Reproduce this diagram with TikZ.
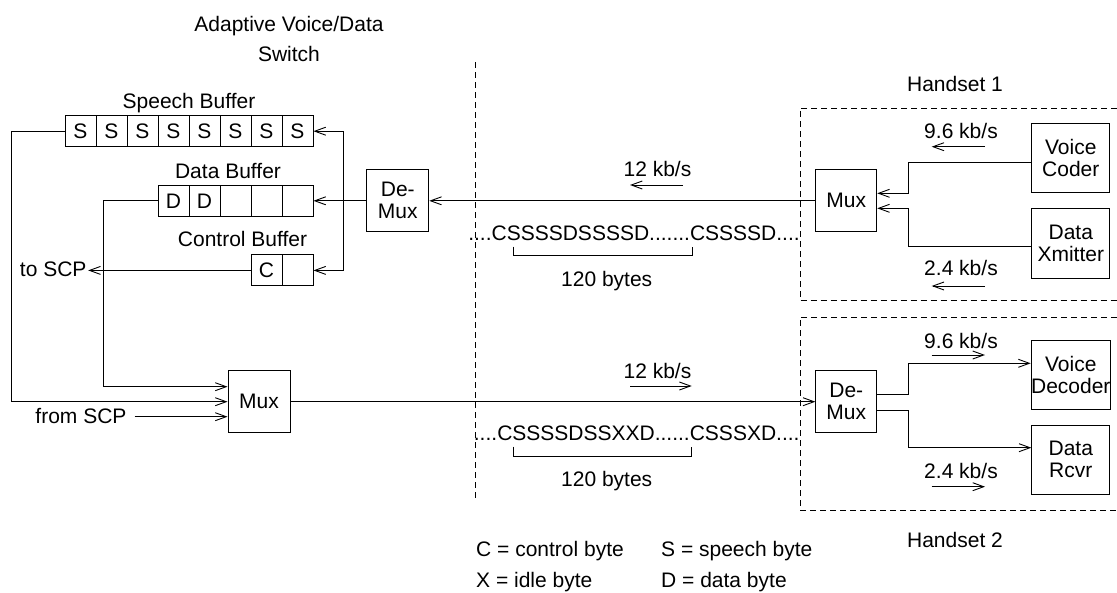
\documentclass[tikz,border=0pt]{standalone}
\usepackage{fontspec}
\setmainfont{Liberation Sans}
\usetikzlibrary{arrows.meta,calc}
\newcommand\myfs{\fontsize{21}{22}\selectfont}
\begin{document}
\begin{tikzpicture}[x=1pt,y=-1pt,
  every node/.style={font=\myfs},
  line/.style={line width=0.9pt},
  arr/.style={line width=0.9pt,-{Straight Barb[length=11pt,width=8pt]}},
  box/.style={draw,line width=0.9pt,align=center,inner sep=0pt},
  cell/.style={draw,line width=0.9pt,minimum width=31pt,minimum height=31pt,inner sep=0pt},
  lbl/.style={inner sep=0pt},
  hsdash/.style={line width=0.9pt,dash pattern=on 6pt off 4pt}]
\useasboundingbox (0,0) rectangle (1117,592);

% titles and labels
\node[lbl,anchor=base] (title1) at (289,31.7) {Adaptive Voice/Data};
\node[lbl,anchor=base] (title2) at (289,61.7) {Switch};
\node[lbl,anchor=base] (sbl) at (189,108) {Speech Buffer};
\node[lbl,anchor=base] (dbl) at (228,178.3) {Data Buffer};
\node[lbl,anchor=base] (cbl) at (242.5,246.7) {Control Buffer};

% buffers
\foreach \i in {1,...,8} \node[cell] (s\i) at ({80.5+31*(\i-1)},131.2) {S};
\foreach \i/\t in {1/D,2/D,3/,4/,5/} \node[cell] (d\i) at ({173.5+31*(\i-1)},200.8) {\t};
\node[cell] (c1) at (266.5,270.4) {C};
\node[cell] (c2) at (297.5,270.4) {};

% boxes
\node[box,minimum width=62pt,minimum height=62pt] (demuxA) at (397.8,200.8) {De-\\Mux};
\node[box,minimum width=62pt,minimum height=62pt] (muxA) at (259,401.7) {Mux};
\node[box,minimum width=61pt,minimum height=62pt] (mux1) at (846.3,200.8) {Mux};
\node[box,minimum width=61pt,minimum height=62pt] (demux2) at (846.3,401.7) {De-\\Mux};
\node[box,minimum width=78pt,minimum height=69pt] (coder) at (1070.8,158) {Voice\\Coder};
\node[box,minimum width=78pt,minimum height=70pt] (xmit) at (1070.8,243.3) {Data\\Xmitter};
\node[box,minimum width=78pt,minimum height=69pt] (decoder) at (1070.8,374.7) {Voice\\Decoder};
\node[box,minimum width=78pt,minimum height=69pt] (rcvr) at (1070.8,459.7) {Data\\Rcvr};

% SCP labels
\node[lbl,anchor=base east] (toscp) at (86.7,276.7) {to SCP};
\node[lbl,anchor=base east] (fromscp) at (126.7,423.3) {from SCP};

% switch connectors
\draw[arr] (c1.west) -- ($(c1.west -| toscp.east)+(1.5,0)$);
\draw[arr] ($(fromscp.east |- muxA.west)+(8,15)$) -- ($(muxA.west)+(0,15)$);
\draw[arr] (s1.west) -- ++(-53,0) |- (muxA.west);
\draw[arr] (d1.west) -- ++(-54,0) |- ($(muxA.west)+(0,-15)$);
\draw[arr] (demuxA.west) -- (d5.east);
\coordinate (jn) at (343,200.8);
\draw[arr] (jn) -- (jn |- s8.east) -- (s8.east);
\draw[arr] (jn) -- (jn |- c2.east) -- (c2.east);

% links
\draw[arr] (mux1.west) -- (demuxA.east);
\draw[arr] (muxA.east) -- (demux2.west);

% handset 1
\draw[arr] ($(coder.west)+(0,4.7)$) -- ++(-123.4,0) |- ($(mux1.east)+(0,-7.5)$);
\draw[arr] ($(xmit.west)+(0,3.4)$) -- ++(-123.4,0) |- ($(mux1.east)+(0,7.5)$);
% handset 2
\draw[arr] ($(demux2.east)+(0,-7.4)$) -- ++(31,0) |- ($(decoder.west)+(0,-11.4)$);
\draw[arr] ($(demux2.east)+(0,8.3)$) -- ++(31,0) |- ($(rcvr.west)+(0,-12)$);

% rate labels and arrows
\node[lbl,anchor=base] (r1) at (961,138.3) {9.6 kb/s};
\node[lbl,anchor=base] (r2) at (961,275) {2.4 kb/s};
\node[lbl,anchor=base] (r3) at (961,348.3) {9.6 kb/s};
\node[lbl,anchor=base] (r4) at (961,478.3) {2.4 kb/s};
\node[lbl,anchor=base] (r5) at (657.5,176.7) {12 kb/s};
\node[lbl,anchor=base] (r6) at (657.5,378.3) {12 kb/s};
\draw[arr] (985,146.7) -- (931.7,146.7);
\draw[arr] (985,286) -- (931.7,286);
\draw[arr] (931.7,355) -- (985,355);
\draw[arr] (931.7,486.7) -- (985,486.7);
\draw[arr] (683,185) -- (630,185);
\draw[arr] (630,386) -- (691.7,386);

% byte sequences
\node[lbl,anchor=base] (seq1) at (634,240) {....CSSSSDSSSSD.......CSSSSD....};
\node[lbl,anchor=base] (seq2) at (636.7,440) {....CSSSSDSSXXD......CSSSXD....};
\draw[line] (513,246.7) -- (513,255) -- (692,255) -- (692,246.7);
\draw[line] (513.3,446.7) -- (513.3,456) -- (691.7,456) -- (691.7,446.7);
\node[lbl,anchor=base] (b1) at (606.7,286) {120 bytes};
\node[lbl,anchor=base] (b2) at (606.7,486.7) {120 bytes};

% handsets
\node[lbl,anchor=base] (h1l) at (955,91.7) {Handset 1};
\node[lbl,anchor=base] (h2l) at (955,547) {Handset 2};
\draw[hsdash] (1117,108.3) -- (800,108.3) -- (800,300.7) -- (1117,300.7);
\draw[hsdash] (1117,317.3) -- (800,317.3) -- (800,510) -- (1117,510);
\draw[hsdash] (475,62) -- (475,500);

% legend
\node[lbl,anchor=base west] (lg1) at (476,556.7) {C = control byte};
\node[lbl,anchor=base west] (lg2) at (661,556.7) {S = speech byte};
\node[lbl,anchor=base west] (lg3) at (476,587) {X = idle byte};
\node[lbl,anchor=base west] (lg4) at (661,587) {D = data byte};
\end{tikzpicture}
\end{document}
